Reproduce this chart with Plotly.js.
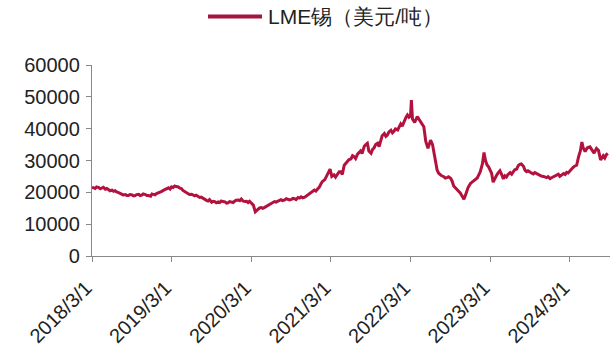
<!DOCTYPE html>
<html><head><meta charset="utf-8">
<script src="https://cdn.plot.ly/plotly-3.0.1.min.js"></script>
<style>html,body{margin:0;padding:0;background:#fff}#c{width:610px;height:350px}</style>
</head><body><div id="c"></div>
<script>
const seriesName = 'LME锡（美元/吨）';
const dates = [
'2018-03-01','2018-03-08','2018-03-15','2018-03-22','2018-04-01','2018-04-08','2018-04-15','2018-04-22','2018-05-01','2018-05-08','2018-05-15','2018-05-22','2018-06-01','2018-06-08','2018-06-15','2018-06-22','2018-07-01','2018-07-08','2018-07-15','2018-07-22','2018-08-01','2018-08-08','2018-08-15','2018-08-22','2018-09-01','2018-09-08','2018-09-15','2018-09-22','2018-10-01','2018-10-08','2018-10-15','2018-10-22','2018-11-01','2018-11-08','2018-11-15','2018-11-25','2018-12-01','2018-12-08','2018-12-15','2018-12-22',
'2019-01-01','2019-01-08','2019-01-15','2019-01-22','2019-02-01','2019-02-08','2019-02-15','2019-02-22','2019-03-01','2019-03-08','2019-03-15','2019-03-22','2019-04-01','2019-04-08','2019-04-15','2019-04-22','2019-05-01','2019-05-08','2019-05-15','2019-05-22','2019-06-01','2019-06-08','2019-06-15','2019-06-22','2019-07-01','2019-07-08','2019-07-15','2019-07-22','2019-08-01','2019-08-08','2019-08-15','2019-08-22','2019-09-01','2019-09-08','2019-09-15','2019-09-22','2019-10-01','2019-10-08','2019-10-15','2019-10-22','2019-11-01','2019-11-08','2019-11-15','2019-11-22','2019-12-01','2019-12-08','2019-12-15','2019-12-22',
'2020-01-01','2020-01-08','2020-01-15','2020-01-22','2020-02-01','2020-02-08','2020-02-15','2020-02-22','2020-03-01','2020-03-10','2020-03-19','2020-03-26','2020-04-01','2020-04-08','2020-04-15','2020-04-22','2020-05-01','2020-05-08','2020-05-15','2020-05-22','2020-06-01','2020-06-08','2020-06-15','2020-06-22','2020-07-01','2020-07-08','2020-07-15','2020-07-22','2020-08-01','2020-08-08','2020-08-15','2020-08-22','2020-09-01','2020-09-08','2020-09-15','2020-09-22','2020-10-01','2020-10-08','2020-10-15','2020-10-22','2020-11-01','2020-11-08','2020-11-15','2020-11-22','2020-12-01','2020-12-08','2020-12-15','2020-12-22',
'2021-01-01','2021-01-08','2021-01-15','2021-01-22','2021-02-01','2021-02-08','2021-02-15','2021-02-25','2021-03-05','2021-03-15','2021-03-22','2021-04-01','2021-04-08','2021-04-15','2021-04-22','2021-05-01','2021-05-08','2021-05-15','2021-05-22','2021-06-01','2021-06-08','2021-06-15','2021-06-22','2021-07-01','2021-07-08','2021-07-15','2021-07-22','2021-08-01','2021-08-08','2021-08-15','2021-08-22','2021-09-01','2021-09-08','2021-09-15','2021-09-22','2021-10-01','2021-10-08','2021-10-15','2021-10-22','2021-11-01','2021-11-08','2021-11-15','2021-11-22','2021-12-01','2021-12-08','2021-12-15','2021-12-22',
'2022-01-01','2022-01-08','2022-01-15','2022-01-22','2022-02-01','2022-02-08','2022-02-15','2022-02-22','2022-03-01','2022-03-05','2022-03-10','2022-03-20','2022-04-01','2022-04-08','2022-04-15','2022-04-22','2022-05-01','2022-05-10','2022-05-20','2022-06-01','2022-06-10','2022-06-20','2022-07-01','2022-07-08','2022-07-15','2022-07-22','2022-08-01','2022-08-08','2022-08-15','2022-08-22','2022-09-01','2022-09-08','2022-09-15','2022-09-22','2022-10-01','2022-10-08','2022-10-15','2022-10-22','2022-11-01','2022-11-10','2022-11-20','2022-12-01','2022-12-08','2022-12-15','2022-12-22',
'2023-01-01','2023-01-08','2023-01-15','2023-01-25','2023-02-01','2023-02-08','2023-02-15','2023-02-22','2023-03-01','2023-03-08','2023-03-15','2023-03-22','2023-04-01','2023-04-08','2023-04-15','2023-04-22','2023-05-01','2023-05-08','2023-05-15','2023-05-22','2023-06-01','2023-06-08','2023-06-15','2023-06-22','2023-07-01','2023-07-08','2023-07-15','2023-07-22','2023-08-01','2023-08-08','2023-08-15','2023-08-22','2023-09-01','2023-09-08','2023-09-15','2023-09-22','2023-10-01','2023-10-08','2023-10-15','2023-10-22','2023-11-01','2023-11-08','2023-11-15','2023-11-22','2023-12-01','2023-12-08','2023-12-15','2023-12-22',
'2024-01-01','2024-01-08','2024-01-15','2024-01-22','2024-02-01','2024-02-08','2024-02-15','2024-02-22','2024-03-01','2024-03-08','2024-03-15','2024-03-22','2024-04-01','2024-04-10','2024-04-18','2024-04-25','2024-05-01','2024-05-10','2024-05-20','2024-06-01','2024-06-10','2024-06-20','2024-07-01','2024-07-10','2024-07-20','2024-08-01','2024-08-08','2024-08-15','2024-08-22'
];
const prices = [
21600,21300,21200,21700,21500,21100,21300,21600,21000,21200,20900,20500,20700,20300,20500,20100,19900,19600,19500,19200,19300,19000,19000,19300,19200,18900,19000,19300,19400,19000,19100,19500,19300,19000,19000,18800,19500,19300,19200,19600,
19800,20100,20300,20600,21000,21300,21400,21000,21700,21500,22000,21800,21700,21300,21200,20600,20200,19900,19700,19300,19400,19000,18900,19100,18800,18400,18500,18100,17800,17500,17300,17700,16900,17200,17100,16700,17000,16800,17300,17100,17000,16600,16700,17100,17000,16800,17200,17500,
17600,17400,17900,17300,17100,17200,16800,17200,16600,16000,13900,14300,14800,15100,15200,15000,15300,15600,15700,16200,16600,16800,17100,16900,17300,17500,17700,17400,17600,18000,17900,17600,17800,18100,18000,17700,18400,18200,18600,18300,18500,18900,19200,19500,20100,20500,20700,20400,
21200,21800,22800,23500,24000,25000,26000,27300,25000,25500,24800,25800,26500,26500,25600,28500,29200,29600,30200,30500,31500,31200,30600,32000,32600,33000,32200,34500,35000,35400,33000,32300,33500,34000,35000,35400,34400,36500,37800,38500,37600,38000,39000,39500,38700,39200,39900,
39600,40500,41500,40800,42800,43500,44300,43600,44000,49000,43000,42000,43800,43000,42500,41800,40600,36000,33800,36400,35000,31200,27000,26000,25500,25200,24900,24500,24600,24900,24400,23500,22000,21500,21000,20500,19800,19000,17800,19500,21500,22800,23200,23800,24200,
24500,25500,26500,29000,32500,30000,28600,28000,27200,26000,23200,24400,25500,26200,26800,25800,24200,25200,24800,25600,26200,25700,26600,27100,27300,28400,28800,28900,28200,27000,26500,26800,26300,25900,25800,26200,25900,25500,25400,25100,25000,24700,24600,24900,24300,24600,24800,25200,
25300,25700,25000,25500,25900,25600,26300,26100,26800,27300,27800,28200,28500,31200,33000,35800,34000,32800,34000,34300,33500,32300,33800,33200,30200,31500,30800,31800,32200
];
const tickDates = ['2018-03-01','2019-03-01','2020-03-01','2021-03-01','2022-03-01','2023-03-01','2024-03-01'];
const tickLabels = ['2018/3/1','2019/3/1','2020/3/1','2021/3/1','2022/3/1','2023/3/1','2024/3/1'];
const yTicks = [0,10000,20000,30000,40000,50000,60000];
const yLabels = ['0','10000','20000','30000','40000','50000','60000'];

const W = 610, H = 350, M = {l: 92, r: 0, t: 65, b: 94};
const pw = W - M.l - M.r, ph = H - M.t - M.b;
const px2x = p => (p - M.l) / pw;
const py2y = p => (H - M.b - p) / ph;
const lineColor = '#b3123e';
const font = {family: 'Liberation Sans, Arial, sans-serif', size: 20, color: '#222'};
const legY = py2y(16.5);
Plotly.newPlot('c', [{
  x: dates, y: prices, type: 'scatter', mode: 'lines', name: seriesName,
  line: {color: lineColor, width: 3}
}], {
  width: W, height: H,
  margin: M,
  paper_bgcolor: '#fff', plot_bgcolor: '#fff',
  font: font,
  showlegend: false,
  shapes: [{type: 'line', xref: 'paper', yref: 'paper', x0: px2x(208), x1: px2x(262), y0: legY, y1: legY,
    line: {color: '#a3163d', width: 4}}],
  annotations: [{xref: 'paper', yref: 'paper', x: px2x(266), y: legY, xanchor: 'left', yanchor: 'middle',
    text: seriesName, showarrow: false, font: Object.assign({}, font, {size: 21})}],
  xaxis: {type: 'date', range: ['2018-03-01', '2024-09-01'], tickvals: tickDates, ticktext: tickLabels,
    tickangle: -45, ticks: 'outside', ticklen: 5, tickcolor: '#888', showline: true, linecolor: '#888', linewidth: 1.2,
    showgrid: false, zeroline: false, tickfont: font, ticklabelstandoff: 6, ticklabelshift: -6},
  yaxis: {range: [0, 60000], tickvals: yTicks, ticktext: yLabels, ticks: 'outside', ticklen: 5, tickcolor: '#888', showline: true, linecolor: '#888', linewidth: 1.2,
    showgrid: false, zeroline: false, tickfont: font, ticklabelstandoff: 2}
}, {displayModeBar: false, staticPlot: true});
</script></body></html>
